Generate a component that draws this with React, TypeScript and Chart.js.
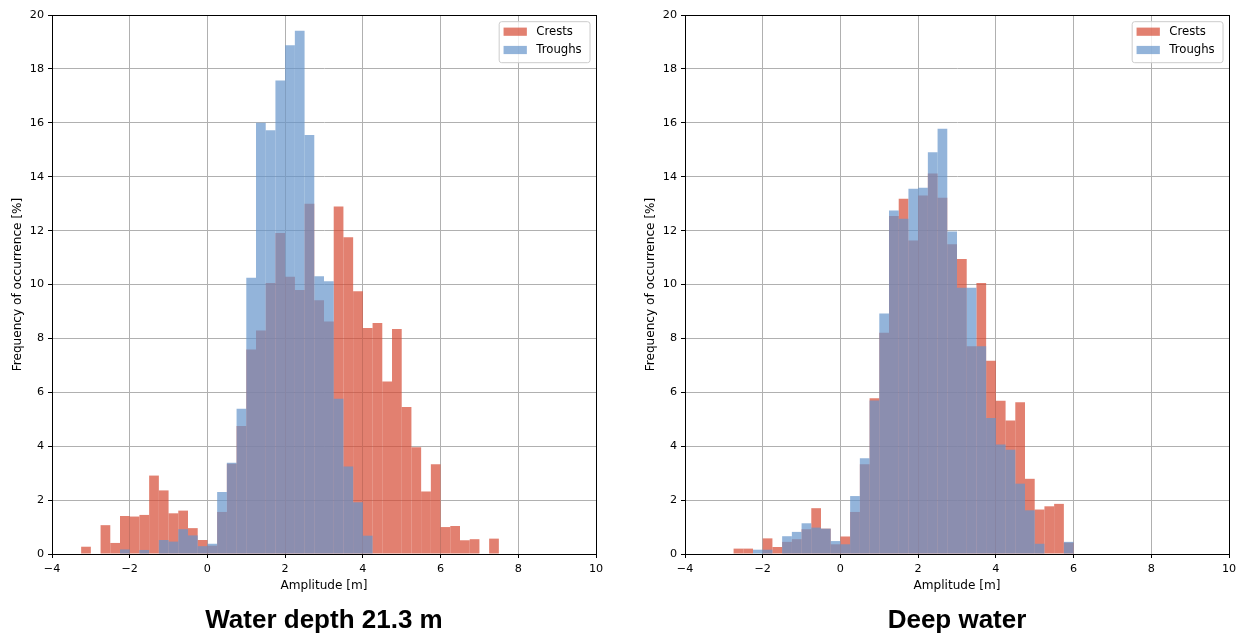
import React, { useEffect, useRef } from 'react';
import { Chart, registerables } from 'chart.js';

Chart.register(...registerables);

// ---------- data ----------
const binWidth = 0.25;

// "Water depth 21.3 m" panel: bins start at -3.25 m, 0.25 m wide
const shallowBinStart = -3.25;
const shallowCrests = [
  0.27, 0, 1.07, 0.41, 1.41, 1.39, 1.45, 2.91, 2.36, 1.51, 1.61, 0.96, 0.52, 0.31,
  1.56, 3.35, 4.75, 7.59, 8.29, 10.06, 11.91, 10.29, 9.8, 13.0, 9.42, 8.63, 12.89,
  11.75, 9.75, 8.39, 8.57, 6.4, 8.35, 5.45, 3.96, 2.32, 3.33, 1.0, 1.04, 0.51, 0.55,
  0, 0.57,
];
const shallowTroughs = [
  0, 0, 0, 0, 0.17, 0, 0.15, 0, 0.52, 0.46, 0.92, 0.69, 0.29, 0.38, 2.3, 3.39, 5.39,
  10.25, 16.0, 15.72, 17.57, 18.88, 19.42, 15.55, 10.31, 10.12, 5.76, 3.25, 1.92, 0.68,
  0, 0, 0, 0, 0, 0, 0, 0, 0, 0, 0, 0, 0,
];

// "Deep water" panel: bins start at -2.75 m, 0.25 m wide
const deepBinStart = -2.75;
const deepCrests = [
  0.2, 0.2, 0, 0.58, 0.26, 0.45, 0.55, 0.92, 1.7, 0.94, 0.36, 0.65, 1.56, 3.33, 5.78,
  8.21, 12.54, 13.18, 11.63, 13.3, 14.12, 13.22, 11.49, 10.95, 7.71, 10.06, 7.17, 5.69,
  4.95, 5.63, 2.79, 1.65, 1.77, 1.86, 0.42,
];
const deepTroughs = [
  0, 0, 0.16, 0.16, 0, 0.66, 0.82, 1.14, 0.98, 0.94, 0.48, 0.36, 2.15, 3.55, 5.7,
  8.92, 12.75, 12.44, 13.55, 13.59, 14.91, 15.78, 11.97, 9.88, 9.88, 7.71, 5.05, 4.06,
  3.87, 2.61, 1.62, 0.38, 0, 0, 0.45,
];

const seriesLabels = ['Crests', 'Troughs'];
const xTicksRange = { min: -4, max: 10, step: 2 };
const yTicksRange = { min: 0, max: 20, step: 2 };

const panelTitles = ['Water depth 21.3 m', 'Deep water'];
const xAxisTitle = 'Amplitude [m]';
const yAxisTitle = 'Frequency of occurrence [%]';

// ---------- styles ----------
const CREST = 'rgba(214, 74, 51, 0.7)';
const TROUGH = 'rgba(101, 148, 202, 0.7)';
const FONT = "'DejaVu Sans', sans-serif";
const FS_TICK = 11.2;
const FS_LABEL = 12.1;
const FS_LEGEND = 11.7;
const TITLE_FONT = "bold 26px 'Liberation Sans', Arial, sans-serif";

function fmt(v: number) {
  return v < 0 ? '\u2212' + Math.abs(v) : String(v);
}

const decorPlugin = {
  id: 'decor',
  afterDraw(chart: any) {
    const { ctx, chartArea: a } = chart;
    ctx.save();
    // full frame (spines)
    const l = Math.round(a.left), t = Math.round(a.top), r = Math.round(a.right), b = Math.round(a.bottom);
    ctx.strokeStyle = '#000';
    ctx.lineWidth = 1;
    ctx.strokeRect(l + 0.5, t + 0.5, r - l, b - t);

    // legend
    ctx.font = `${FS_LEGEND}px ${FONT}`;
    const colors = [CREST, TROUGH];
    const maxW = Math.max(...seriesLabels.map((s) => ctx.measureText(s).width));
    const pad = 4.4, handleW = 23.3, handleH = 8.2, textPad = 9.4;
    const w = pad + handleW + textPad + maxW + 8.3;
    const right = a.right - 6;
    const left = right - w;
    const top = a.top + 6.7;
    const h = 41;
    const rad = 2.5;
    ctx.beginPath();
    ctx.moveTo(left + rad, top);
    ctx.arcTo(left + w, top, left + w, top + h, rad);
    ctx.arcTo(left + w, top + h, left, top + h, rad);
    ctx.arcTo(left, top + h, left, top, rad);
    ctx.arcTo(left, top, left + w, top, rad);
    ctx.closePath();
    ctx.fillStyle = 'rgba(255,255,255,0.8)';
    ctx.fill();
    ctx.strokeStyle = '#cccccc';
    ctx.lineWidth = 1;
    ctx.stroke();
    seriesLabels.forEach((s, i) => {
      const cy = top + 10 + i * 18.3;
      ctx.fillStyle = colors[i];
      ctx.fillRect(left + pad, cy - handleH / 2, handleW, handleH);
      ctx.fillStyle = '#000';
      ctx.textAlign = 'left';
      ctx.textBaseline = 'middle';
      ctx.fillText(s, left + pad + handleW + textPad, cy);
    });

    // panel title, centred under the plot area
    const title = chart.options.plugins.panelTitle?.text;
    if (title) {
      ctx.font = TITLE_FONT;
      ctx.fillStyle = '#000';
      ctx.textAlign = 'center';
      ctx.textBaseline = 'alphabetic';
      ctx.fillText(title, (a.left + a.right) / 2, 628.3);
    }
    ctx.restore();
  },
};

function makeConfig(title: string, binStart: number, crests: number[], troughs: number[], padRight: number): any {
  const centers = crests.map((_, i) => binStart + binWidth * (i + 0.5));
  const common = {
    grouped: false,
    barPercentage: 1,
    categoryPercentage: 1,
    borderWidth: 0,
    inflateAmount: 0,
  };
  const tickFont = { family: FONT, size: FS_TICK };
  const labelFont = { family: FONT, size: FS_LABEL, lineHeight: 1.2 };
  return {
    type: 'bar',
    data: {
      datasets: [
        {
          label: seriesLabels[0],
          data: centers.map((x, i) => ({ x, y: crests[i] })),
          backgroundColor: CREST,
          order: 1,
          ...common,
        },
        {
          label: seriesLabels[1],
          data: centers.map((x, i) => ({ x, y: troughs[i] })),
          backgroundColor: TROUGH,
          order: 0,
          ...common,
        },
      ],
    },
    options: {
      animation: false,
      responsive: false,
      devicePixelRatio: 1,
      events: [],
      layout: { padding: { left: 8, top: 15, right: padRight, bottom: 39.2 } },
      plugins: {
        legend: { display: false },
        tooltip: { enabled: false },
        title: { display: false },
        panelTitle: { text: title },
      },
      scales: {
        x: {
          type: 'linear',
          min: xTicksRange.min,
          max: xTicksRange.max,
          offset: false,
          z: 1,
          ticks: {
            stepSize: xTicksRange.step,
            color: '#000',
            font: tickFont,
            padding: 4,
            maxRotation: 0,
            autoSkip: false,
            callback: (v: number) => fmt(v),
          },
          grid: { color: '#b0b0b0', lineWidth: 1, tickColor: '#000', tickLength: 4, offset: false },
          border: { color: '#000', width: 1 },
          title: {
            display: true,
            text: xAxisTitle,
            color: '#000',
            font: labelFont,
            padding: { top: 0, bottom: 1.5 },
          },
          afterFit: (s: any) => {
            s.height = 40.8;
          },
        },
        y: {
          min: yTicksRange.min,
          max: yTicksRange.max,
          z: 1,
          ticks: {
            stepSize: yTicksRange.step,
            color: '#000',
            font: tickFont,
            padding: 4,
            callback: (v: number) => fmt(v),
          },
          grid: { color: '#b0b0b0', lineWidth: 1, tickColor: '#000', tickLength: 4 },
          border: { color: '#000', width: 1 },
          title: {
            display: true,
            text: yAxisTitle,
            color: '#000',
            font: labelFont,
            padding: { top: 3, bottom: 0 },
          },
          afterFit: (s: any) => {
            s.width = 44;
          },
        },
      },
    },
    plugins: [decorPlugin],
  };
}

function Panel(props: { left: number; width: number; config: any }) {
  const ref = useRef<HTMLCanvasElement | null>(null);
  useEffect(() => {
    if (!ref.current) return;
    const chart = new Chart(ref.current, props.config);
    return () => chart.destroy();
  }, []);
  return (
    <canvas
      ref={ref}
      width={props.width}
      height={634}
      style={{ position: 'absolute', left: props.left, top: 0, width: props.width, height: 634 }}
    />
  );
}

export default function App() {
  return (
    <div style={{ position: 'absolute', left: 0, top: 0, width: 1241, height: 634, background: '#fff' }}>
      <Panel left={0} width={620} config={makeConfig(panelTitles[0], shallowBinStart, shallowCrests, shallowTroughs, 24)} />
      <Panel left={633} width={608} config={makeConfig(panelTitles[1], deepBinStart, deepCrests, deepTroughs, 12)} />
    </div>
  );
}
